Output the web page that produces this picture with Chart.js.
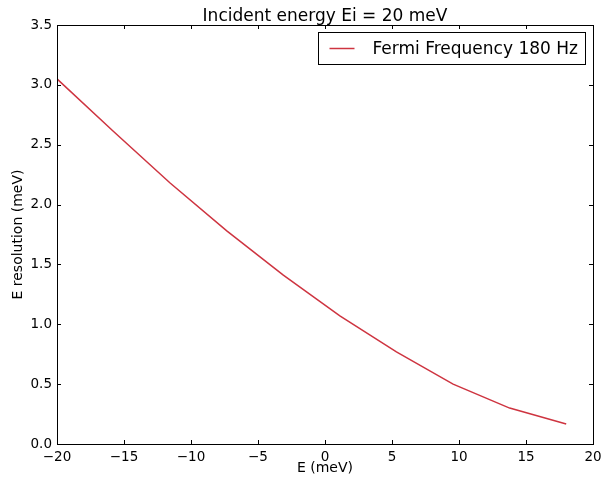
<!DOCTYPE html>
<html>
<head>
<meta charset="utf-8">
<title>Incident energy Ei = 20 meV</title>
<script src="https://cdn.jsdelivr.net/npm/chart.js@4/dist/chart.umd.min.js"></script>
<style>
  html, body { margin: 0; padding: 0; background: #fff; }
  canvas { display: block; }
</style>
</head>
<body>
<canvas id="res-chart" width="601" height="482"></canvas>
<script>
// Daten
const energies = [-20, -15.78, -11.56, -7.33, -3.11, 1.11, 5.33, 9.56, 13.78, 18];
const resolution = [3.05, 2.61, 2.18, 1.78, 1.41, 1.07, 0.77, 0.50, 0.30, 0.167];
const xTicks = [-20, -15, -10, -5, 0, 5, 10, 15, 20];
const yTicks = [0, 0.5, 1.0, 1.5, 2.0, 2.5, 3.0, 3.5];
const seriesLabel = "Fermi Frequency 180 Hz";
const chartTitle = "Incident energy Ei = 20 meV";

const FONT = "'DejaVu Sans', sans-serif";
const RED = "rgb(206, 52, 64)";

// Rahmen, Ticks nach innen, Titel und Legende (matplotlib-Stil)
const mplDecor = {
  id: "mplDecor",
  afterDatasetsDraw(chart) {
    const { ctx, chartArea: a } = chart;
    const xs = chart.scales.x;
    const ys = chart.scales.y;
    ctx.save();
    ctx.strokeStyle = "#000";
    ctx.lineWidth = 1;

    // Ticks
    ctx.beginPath();
    xs.ticks.forEach((t) => {
      const px = Math.round(xs.getPixelForValue(t.value)) + 0.5;
      ctx.moveTo(px, a.bottom); ctx.lineTo(px, a.bottom - 4);
      ctx.moveTo(px, a.top); ctx.lineTo(px, a.top + 4);
    });
    ys.ticks.forEach((t) => {
      const py = Math.round(ys.getPixelForValue(t.value)) + 0.5;
      ctx.moveTo(a.left, py); ctx.lineTo(a.left + 4, py);
      ctx.moveTo(a.right, py); ctx.lineTo(a.right - 4, py);
    });
    ctx.stroke();

    // Rahmen
    ctx.strokeRect(Math.round(a.left) + 0.5, Math.round(a.top) + 0.5,
      Math.round(a.right - a.left), Math.round(a.bottom - a.top));

    // Titel
    ctx.fillStyle = "#000";
    ctx.font = "17px " + FONT;
    ctx.textAlign = "center";
    ctx.textBaseline = "alphabetic";
    ctx.fillText(chartTitle, (a.left + a.right) / 2, a.top - 4);

    // Legende
    const ds = chart.data.datasets[0];
    ctx.font = "17px " + FONT;
    const tw = ctx.measureText(ds.label).width;
    const boxW = Math.round(11 + 25 + 18 + tw + 8);
    const boxH = 32;
    const bx = Math.round(a.right - 8 - boxW) + 0.5;
    const by = Math.round(a.top + 7) + 0.5;
    ctx.fillStyle = "#fff";
    ctx.fillRect(bx, by, boxW, boxH);
    ctx.strokeRect(bx, by, boxW, boxH);
    const my = by + boxH / 2;
    ctx.strokeStyle = ds.borderColor;
    ctx.lineWidth = ds.borderWidth;
    ctx.beginPath();
    ctx.moveTo(bx + 11, my); ctx.lineTo(bx + 36, my);
    ctx.stroke();
    ctx.fillStyle = "#000";
    ctx.textAlign = "left";
    ctx.textBaseline = "middle";
    ctx.fillText(ds.label, bx + 54, my + 1);
    ctx.restore();
  },
};

const ctx = document.getElementById("res-chart").getContext("2d");
new Chart(ctx, {
  type: "line",
  data: {
    datasets: [
      {
        label: seriesLabel,
        data: energies.map((e, i) => ({ x: e, y: resolution[i] })),
        borderColor: RED,
        borderWidth: 1.5,
        pointRadius: 0,
        tension: 0,
        fill: false,
      },
    ],
  },
  options: {
    responsive: false,
    animation: false,
    devicePixelRatio: 1,
    layout: { padding: { top: 25, right: 8, bottom: 0, left: 0 } },
    plugins: {
      legend: { display: false },
      title: { display: false },
      tooltip: { enabled: false },
    },
    scales: {
      x: {
        type: "linear",
        min: -20,
        max: 20,
        afterBuildTicks: (s) => { s.ticks = xTicks.map((v) => ({ value: v })); },
        afterFit: (s) => { s.height = 38; s.paddingRight = 0; s.paddingLeft = 0; },
        grid: { display: false, drawTicks: false, tickLength: 0 },
        border: { display: false },
        ticks: {
          color: "#000",
          font: { family: FONT, size: 13.5 },
          padding: 5,
          maxRotation: 0,
          callback: (v) => (v < 0 ? "\u2212" + Math.abs(v) : String(v)),
        },
        title: {
          display: true,
          text: "E (meV)",
          color: "#000",
          font: { family: FONT, size: 14 },
          padding: { top: 0, bottom: 5 },
        },
      },
      y: {
        min: 0,
        max: 3.5,
        afterBuildTicks: (s) => { s.ticks = yTicks.map((v) => ({ value: v })); },
        afterFit: (s) => { s.width = 57; s.paddingTop = 0; s.paddingBottom = 0; },
        grid: { display: false, drawTicks: false, tickLength: 0 },
        border: { display: false },
        ticks: {
          color: "#000",
          font: { family: FONT, size: 13.5 },
          padding: 5,
          callback: (v) => Number(v).toFixed(1),
        },
        title: {
          display: true,
          text: "E resolution (meV)",
          color: "#000",
          font: { family: FONT, size: 14 },
          padding: { top: 10, bottom: 0 },
        },
      },
    },
  },
  plugins: [mplDecor],
});
</script>
</body>
</html>
